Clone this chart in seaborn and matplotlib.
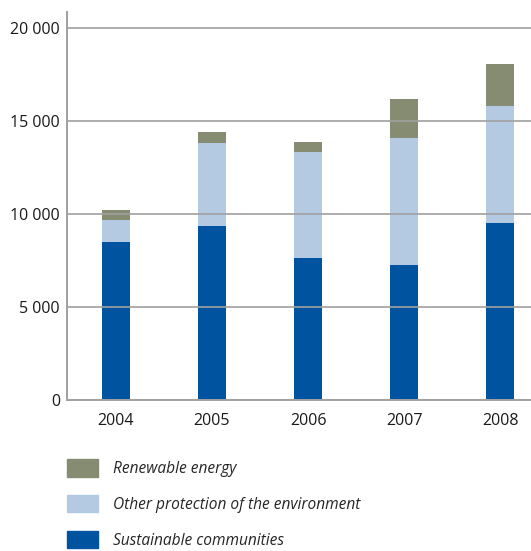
import matplotlib
matplotlib.use("Agg")
import matplotlib.pyplot as plt
import matplotlib.patches as mpatches
from matplotlib.ticker import FuncFormatter
import seaborn as sns
import pandas as pd
import numpy as np

years = ["2004", "2005", "2006", "2007", "2008"]
sustainable = [8490, 9340, 7640, 7270, 9500]
other_env = [1170, 4460, 5690, 6790, 6300]
renewable = [530, 580, 520, 2120, 2250]

c_sust = "#00549f"
c_other = "#b3cae2"
c_renew = "#858c72"

sns.set_style("white")
plt.rcParams["font.family"] = ["Open Sans", "DejaVu Sans"]

df = pd.DataFrame({"year": years, "sust": sustainable,
                   "other": other_env, "renew": renewable})
df["lvl2"] = df["sust"] + df["other"]
df["lvl3"] = df["lvl2"] + df["renew"]

fig = plt.figure(figsize=(5.31, 5.51), dpi=100)
ax = fig.add_axes([0.126, 0.274, 0.874, 0.704])

# overlapping cumulative bars, tallest first
for col, c in [("lvl3", c_renew), ("lvl2", c_other), ("sust", c_sust)]:
    sns.barplot(data=df, x="year", y=col, color=c, width=0.29,
                saturation=1, ax=ax, zorder=1, linewidth=0, edgecolor=c)

ax.set_xlim(-0.51, 4.32)
ax.set_ylim(0, 20850)
ax.set_yticks([0, 5000, 10000, 15000, 20000])
ax.yaxis.set_major_formatter(FuncFormatter(lambda v, p: f"{int(v):,}".replace(",", " ")))
ax.set_axisbelow(False)
ax.grid(axis="y", color="#a0a0a0", linewidth=1.2)
ax.set_xlabel("")
ax.set_ylabel("")
ax.tick_params(axis="both", length=0, labelsize=11.5, colors="#1a1a1a", pad=5)
ax.tick_params(axis="x", pad=9)
for s in ["top", "right"]:
    ax.spines[s].set_visible(False)
for s in ["left", "bottom"]:
    ax.spines[s].set_color("#a0a0a0")
    ax.spines[s].set_linewidth(1.4)

handles = [mpatches.Patch(color=c_renew, label="Renewable energy"),
           mpatches.Patch(color=c_other, label="Other protection of the environment"),
           mpatches.Patch(color=c_sust, label="Sustainable communities")]
fig.legend(handles=handles, loc="upper left", bbox_to_anchor=(0.115, 0.178),
           frameon=False, prop={"style": "italic", "size": 11.2},
           handlelength=2.0, handleheight=1.35, labelspacing=1.15,
           handletextpad=0.95, borderaxespad=0)

fig.savefig("out.png", dpi=100)
